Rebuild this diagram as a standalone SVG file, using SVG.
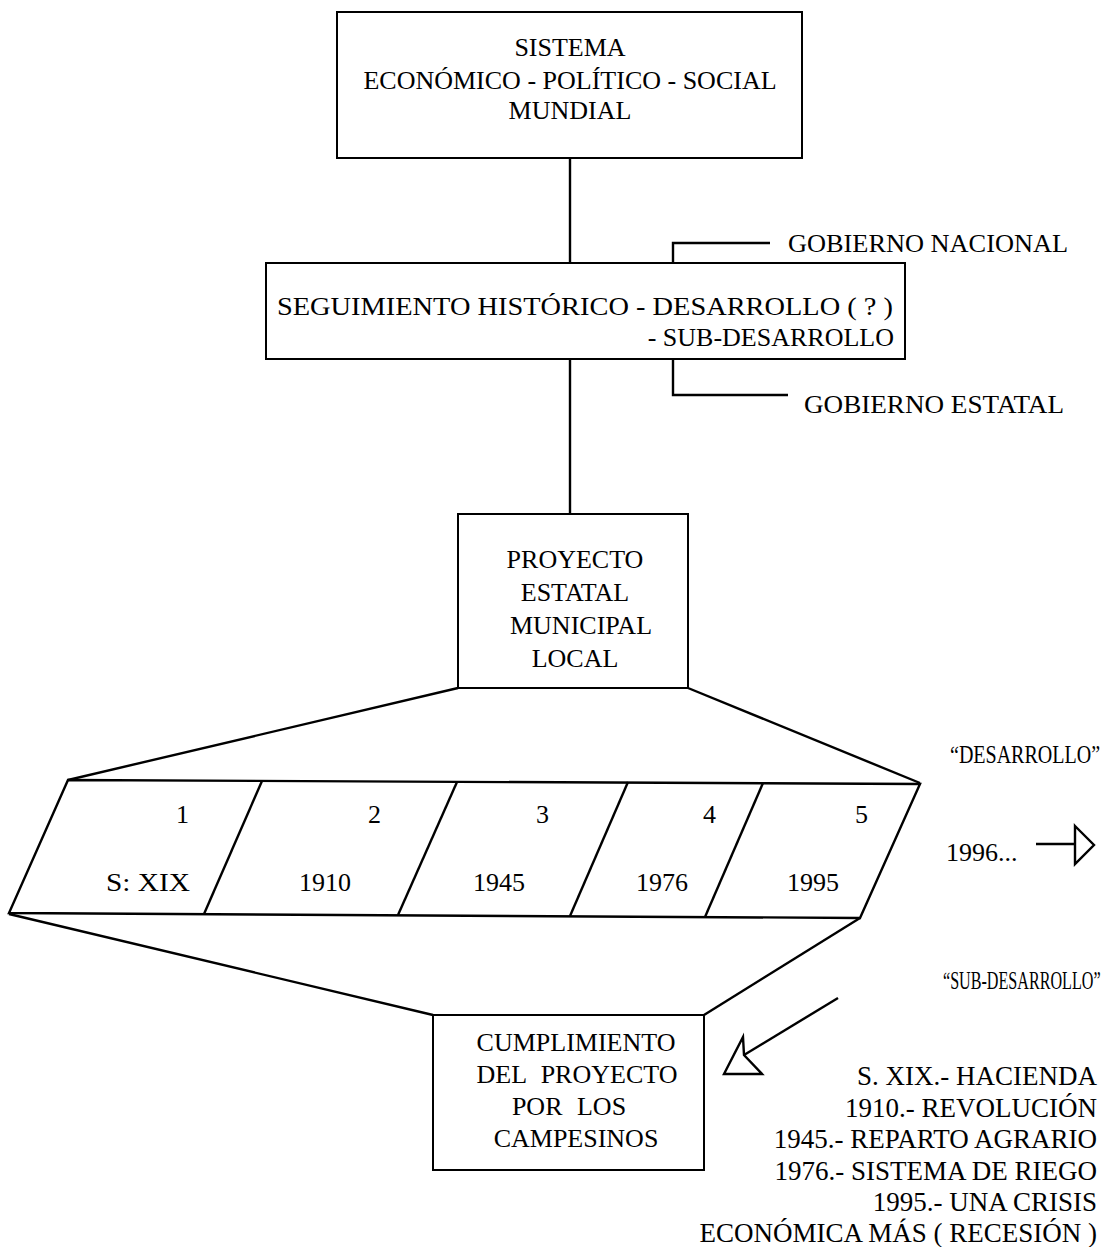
<svg xmlns="http://www.w3.org/2000/svg" width="1113" height="1247" viewBox="0 0 1113 1247">
<style>
text{font-family:"Liberation Serif","Times New Roman",serif;font-size:26px;fill:#000}
.c{text-anchor:middle}
.e{text-anchor:end}
.lg{font-size:27px}
.b{fill:#fff;stroke:#000;stroke-width:2}
.l{fill:none;stroke:#000;stroke-width:2.4}
</style>
<rect width="1113" height="1247" fill="#fff"/>
<g id="connectors">
<line class="l" x1="570" y1="158" x2="570" y2="263"/>
<line class="l" x1="570" y1="359" x2="570" y2="514"/>
<polyline class="l" points="673,263 673,243 770,243"/>
<polyline class="l" points="673,359 673,395 788,395"/>
<polyline class="l" points="458,688 68,780"/>
<polyline class="l" points="688,688 920,783"/>
<polyline class="l" points="9,914 433,1015"/>
<polyline class="l" points="860,918 704,1015"/>
<line class="l" x1="838" y1="998" x2="744" y2="1055"/>
<polygon class="l" points="743,1037 744,1055 762,1074 724,1074"/>
<line class="l" x1="1036" y1="844" x2="1075" y2="844"/>
<polygon class="l" points="1075,826 1094,845 1075,864"/>
</g>
<g id="n1">
<rect class="b" x="337" y="12" width="465" height="146"/>
<text class="c" x="570" y="56" font-size="25">SISTEMA</text>
<text class="c" x="570" y="89" font-size="25">ECONÓMICO - POLÍTICO - SOCIAL</text>
<text class="c" x="570" y="119" font-size="25">MUNDIAL</text>
</g>
<g id="n2">
<rect class="b" x="266" y="263" width="639" height="96"/>
<text x="277" y="315" textLength="616" lengthAdjust="spacingAndGlyphs">SEGUIMIENTO HISTÓRICO - DESARROLLO ( ? )</text>
<text class="e" x="894" y="346">- SUB-DESARROLLO</text>
</g>
<g id="gob-nacional"><text x="788" y="252" textLength="280" lengthAdjust="spacingAndGlyphs">GOBIERNO NACIONAL</text></g>
<g id="gob-estatal"><text x="804" y="413" textLength="260" lengthAdjust="spacingAndGlyphs">GOBIERNO ESTATAL</text></g>
<g id="n3">
<rect class="b" x="458" y="514" width="230" height="174"/>
<text class="c" x="575" y="568">PROYECTO</text>
<text class="c" x="575" y="601">ESTATAL</text>
<text class="c" x="581" y="634">MUNICIPAL</text>
<text class="c" x="575" y="667">LOCAL</text>
</g>
<g id="band">
<polygon class="l" points="68,780 920,784 860,918 9,913"/>
<line class="l" x1="262" y1="781" x2="204" y2="914"/>
<line class="l" x1="457" y1="782" x2="398" y2="915"/>
<line class="l" x1="628" y1="782" x2="570" y2="916"/>
<line class="l" x1="763" y1="783" x2="705" y2="917"/>
<text x="176" y="823">1</text>
<text x="368" y="823">2</text>
<text x="536" y="823">3</text>
<text x="703" y="823">4</text>
<text x="855" y="823">5</text>
<text x="106" y="891" textLength="84" lengthAdjust="spacingAndGlyphs">S: XIX</text>
<text x="299" y="891">1910</text>
<text x="473" y="891">1945</text>
<text x="636" y="891">1976</text>
<text x="787" y="891">1995</text>
</g>
<g id="lbl-desarrollo"><text transform="translate(950,763) scale(0.77,1)">“DESARROLLO”</text></g>
<g id="lbl-1996"><text x="946" y="861">1996...</text></g>
<g id="lbl-subdesarrollo"><text transform="translate(943,989) scale(0.62,1)">“SUB-DESARROLLO”</text></g>
<g id="n4">
<rect class="b" x="433" y="1015" width="271" height="155"/>
<text class="c" x="576" y="1051">CUMPLIMIENTO</text>
<text class="c" x="577" y="1083" word-spacing="8">DEL PROYECTO</text>
<text class="c" x="569" y="1115" word-spacing="8">POR LOS</text>
<text class="c" x="576" y="1147">CAMPESINOS</text>
</g>
<g id="legend">
<text class="e lg" x="1097" y="1085">S. XIX.- HACIENDA</text>
<text class="e lg" x="1097" y="1117">1910.- REVOLUCIÓN</text>
<text class="e lg" x="1097" y="1148">1945.- REPARTO AGRARIO</text>
<text class="e lg" x="1097" y="1180">1976.- SISTEMA DE RIEGO</text>
<text class="e lg" x="1097" y="1211">1995.- UNA CRISIS</text>
<text class="e lg" x="1097" y="1242">ECONÓMICA MÁS ( RECESIÓN )</text>
</g>
</svg>
